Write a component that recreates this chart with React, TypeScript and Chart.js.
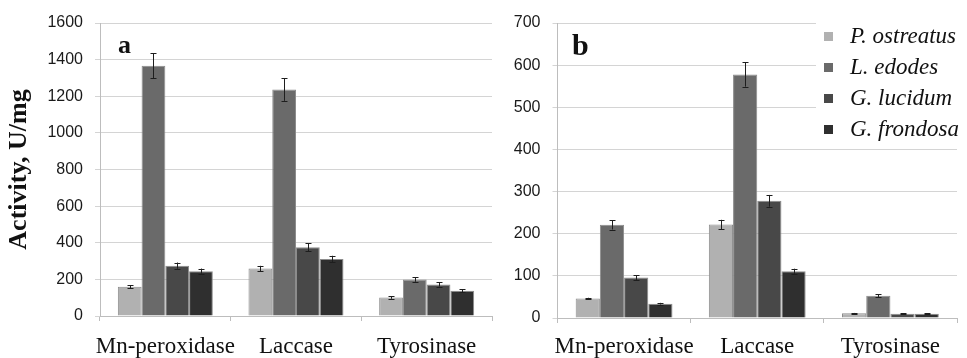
import React, { useEffect, useRef } from "react";
import { Chart, registerables } from "chart.js";

Chart.register(...registerables);

const categories = ["Mn-peroxidase", "Laccase", "Tyrosinase"];
const seriesNames = ["P. ostreatus", "L. edodes", "G. lucidum", "G. frondosa"];
const seriesColors = ["#b1b1b1", "#6a6a6a", "#484848", "#2f2f2f"];

// Panel a values (U/mg)
const aPOstreatus = [160, 259, 101];
const aLEdodes = [1366, 1237, 199];
const aGLucidum = [275, 375, 172];
const aGFrondosa = [245, 311, 138];
// Panel a error values
const aErrPOstreatus = [9, 15, 7];
const aErrLEdodes = [68, 62, 12];
const aErrGLucidum = [17, 22, 11];
const aErrGFrondosa = [14, 18, 8];

// Panel b values
const bPOstreatus = [46, 222, 11];
const bLEdodes = [221, 578, 53];
const bGLucidum = [96, 278, 10];
const bGFrondosa = [34, 111, 10];
// Panel b error values
const bErrPOstreatus = [2, 11, 1];
const bErrLEdodes = [11, 29, 3];
const bErrGLucidum = [6, 14, 1];
const bErrGFrondosa = [2, 6, 1];

const aTicks = { max: 1600, step: 200 };
const bTicks = { max: 700, step: 100 };

const SERIF = '"Liberation Serif", "Times New Roman", Times, serif';
const SANS = '"Liberation Sans", Arial, sans-serif';

const errorBarPlugin = {
  id: "errorBars",
  afterDatasetsDraw(chart: any) {
    const ctx = chart.ctx;
    const yScale = chart.scales.y;
    ctx.save();
    ctx.strokeStyle = "#1e1e1e";
    ctx.lineWidth = 1;
    chart.data.datasets.forEach((ds: any, i: number) => {
      const meta = chart.getDatasetMeta(i);
      meta.data.forEach((bar: any, j: number) => {
        const v = ds.data[j];
        const e = ds.errors ? ds.errors[j] : 0;
        if (!e) return;
        const x = Math.round(bar.x) + 0.5;
        const yt = yScale.getPixelForValue(v + e);
        const yb = yScale.getPixelForValue(v - e);
        ctx.beginPath();
        ctx.moveTo(x, yt);
        ctx.lineTo(x, yb);
        ctx.moveTo(x - 3, Math.round(yt) + 0.5);
        ctx.lineTo(x + 3, Math.round(yt) + 0.5);
        ctx.moveTo(x - 3, Math.round(yb) + 0.5);
        ctx.lineTo(x + 3, Math.round(yb) + 0.5);
        ctx.stroke();
      });
    });
    ctx.restore();
  },
};

const annotationPlugin = {
  id: "annot",
  afterDraw(chart: any, _args: any, opts: any) {
    const ctx = chart.ctx;
    ctx.save();
    if (opts.panel) {
      const p = opts.panel;
      ctx.font = `bold ${p.size}px ${SERIF}`;
      ctx.fillStyle = "#111";
      ctx.textBaseline = "alphabetic";
      ctx.textAlign = "left";
      ctx.fillText(p.text, p.x, p.y);
    }
    if (opts.legend) {
      const L = opts.legend;
      ctx.fillStyle = "#ffffff";
      ctx.fillRect(L.boxX, L.boxY, L.boxW, L.boxH);
      ctx.font = `italic ${L.size}px ${SERIF}`;
      ctx.textBaseline = "middle";
      ctx.textAlign = "left";
      chart.data.datasets.forEach((ds: any, i: number) => {
        const cy = L.y0 + i * L.dy;
        ctx.fillStyle = ds.backgroundColor;
        ctx.fillRect(L.sqX, Math.round(cy - L.sq / 2), L.sq, L.sq);
        ctx.fillStyle = "#111";
        ctx.fillText(ds.label, L.textX, cy);
      });
    }
    ctx.restore();
  },
};

function buildDatasets(values: number[][], errors: number[][]) {
  return values.map((v, i) => ({
    label: seriesNames[i],
    data: v,
    errors: errors[i],
    backgroundColor: seriesColors[i],
    borderColor: "#8c8c8c",
    borderWidth: 1,
    categoryPercentage: 0.727,
    barPercentage: 1.0,
  }));
}

function makeConfig(opts: any) {
  return {
    type: "bar",
    data: {
      labels: categories,
      datasets: buildDatasets(opts.values, opts.errors),
    },
    options: {
      responsive: false,
      animation: false,
      events: [],
      layout: { padding: { left: 0, right: opts.padRight, top: opts.padTop, bottom: 0 } },
      plugins: {
        legend: { display: false },
        tooltip: { enabled: false },
        annot: { panel: opts.panel, legend: opts.legend },
      },
      scales: {
        x: {
          grid: {
            display: true,
            drawOnChartArea: false,
            drawTicks: true,
            tickLength: 5,
            color: "#bdbdbd",
          },
          border: { color: "#bdbdbd", width: 1 },
          ticks: {
            color: "#111",
            padding: opts.xPad,
            autoSkip: false,
            maxRotation: 0,
            minRotation: 0,
            font: { family: SERIF, size: 23 },
          },
          afterFit(scale: any) {
            scale.height = opts.xHeight;
          },
        },
        y: {
          min: 0,
          max: opts.ticks.max,
          ticks: {
            stepSize: opts.ticks.step,
            color: "#1a1a1a",
            padding: 12,
            font: { family: SANS, size: 16 },
            callback: (v: any) => String(v),
          },
          grid: {
            color: "#d4d4d4",
            tickLength: 5,
            drawTicks: true,
          },
          border: { color: "#bdbdbd", width: 1 },
          title: opts.title
            ? {
                display: true,
                text: opts.title,
                color: "#111",
                padding: { top: 4, bottom: 0 },
                font: { family: SERIF, size: 26, weight: "bold" },
              }
            : { display: false },
          afterFit(scale: any) {
            scale.width = opts.yWidth;
          },
        },
      },
    },
    plugins: [errorBarPlugin, annotationPlugin],
  };
}

function Panel(props: { left: number; width: number; config: any }) {
  const ref = useRef<HTMLCanvasElement | null>(null);
  useEffect(() => {
    if (!ref.current) return;
    const chart = new Chart(ref.current, props.config);
    return () => chart.destroy();
  }, []);
  return (
    <canvas
      ref={ref}
      width={props.width}
      height={358}
      style={{ position: "absolute", left: props.left, top: 0, width: props.width, height: 358, display: "block" }}
    />
  );
}

export default function App() {
  const configA = makeConfig({
    values: [aPOstreatus, aLEdodes, aGLucidum, aGFrondosa],
    errors: [aErrPOstreatus, aErrLEdodes, aErrGLucidum, aErrGFrondosa],
    ticks: aTicks,
    yWidth: 100,
    padRight: 3,
    padTop: 23,
    xHeight: 42,
    xPad: 12,
    title: "Activity, U/mg",
    panel: { text: "a", x: 118, y: 53, size: 26 },
  });
  const configB = makeConfig({
    values: [bPOstreatus, bLEdodes, bGLucidum, bGFrondosa],
    errors: [bErrPOstreatus, bErrLEdodes, bErrGLucidum, bErrGFrondosa],
    ticks: bTicks,
    yWidth: 62.5,
    padRight: 10,
    padTop: 23,
    xHeight: 40,
    xPad: 10,
    title: null,
    panel: { text: "b", x: 77, y: 55, size: 30 },
    legend: {
      boxX: 321,
      boxY: 12,
      boxW: 151,
      boxH: 130,
      sqX: 329,
      sq: 9,
      textX: 355,
      y0: 36.5,
      dy: 31,
      size: 23,
    },
  });
  return (
    <div style={{ position: "absolute", left: 0, top: 0, width: 967, height: 358, background: "#fff", overflow: "hidden" }}>
      <Panel left={0} width={495} config={configA} />
      <Panel left={495} width={472} config={configB} />
    </div>
  );
}
